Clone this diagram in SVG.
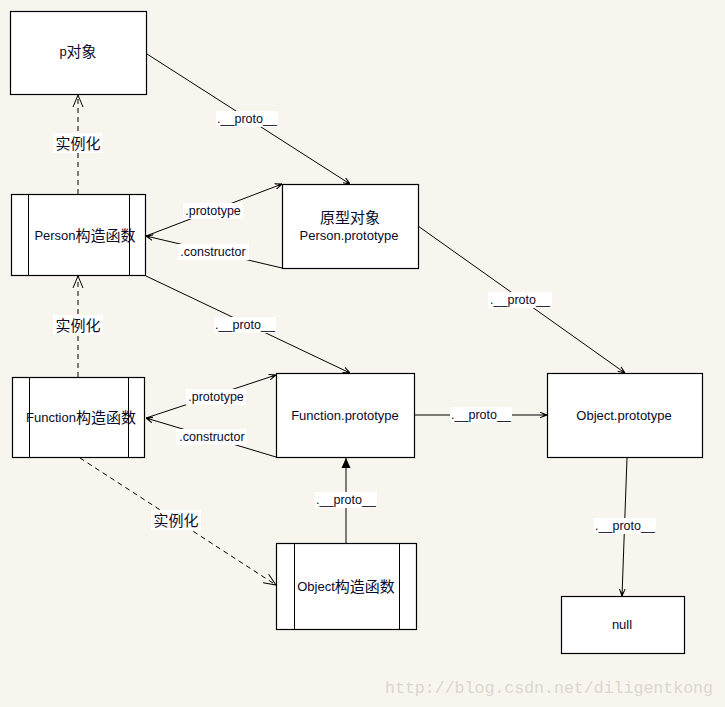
<svg xmlns="http://www.w3.org/2000/svg" width="725" height="707" viewBox="0 0 725 707">
<style>
.box{fill:#fff;stroke:#000;stroke-width:1.2}
.ln{fill:none;stroke:#000;stroke-width:1}
.dash{stroke-dasharray:5,4}
.t{font-family:"Liberation Sans","Noto Sans CJK SC",sans-serif;font-size:13px;fill:#0a0a2a;text-anchor:middle;dominant-baseline:central}
.c{font-size:15px}
.lbl{font-family:"Liberation Sans","Noto Sans CJK SC",sans-serif;font-size:12.5px;fill:#0a0a2a;text-anchor:middle;dominant-baseline:central}
.bg{fill:#fff}
</style>
<defs>
<marker id="a" viewBox="0 0 10 10" refX="10" refY="5" markerWidth="7" markerHeight="7" orient="auto" markerUnits="userSpaceOnUse">
<path d="M0,1 L10,5 L0,9 M4,5 L10,5" fill="none" stroke="#000" stroke-width="1.5"/>
</marker>
<marker id="v" viewBox="0 0 12 12" refX="12" refY="6" markerWidth="12" markerHeight="12" orient="auto" markerUnits="userSpaceOnUse">
<path d="M0,1 L12,6 L0,11" fill="none" stroke="#000" stroke-width="1"/>
</marker>
<marker id="f" viewBox="0 0 10 10" refX="10" refY="5" markerWidth="10" markerHeight="10" orient="auto" markerUnits="userSpaceOnUse">
<path d="M0,0.5 L10,5 L0,9.5 Z" fill="#000"/>
</marker>
</defs>
<rect width="725" height="707" fill="#f8f5ef"/>

<g id="connectors">
<line class="ln" x1="147" y1="54" x2="350" y2="184" marker-end="url(#a)"/>
<line class="ln dash" x1="78" y1="194" x2="78" y2="95" marker-end="url(#v)"/>
<line class="ln" x1="146" y1="236" x2="282" y2="184" marker-end="url(#a)"/>
<line class="ln" x1="282" y1="268" x2="146" y2="236" marker-end="url(#a)"/>
<line class="ln" x1="146" y1="276" x2="350" y2="373" marker-end="url(#a)"/>
<line class="ln dash" x1="78" y1="377" x2="78" y2="276" marker-end="url(#v)"/>
<line class="ln" x1="146" y1="418" x2="276" y2="375" marker-end="url(#a)"/>
<line class="ln" x1="276" y1="457" x2="146" y2="418" marker-end="url(#a)"/>
<line class="ln" x1="415" y1="415" x2="547" y2="415" marker-end="url(#a)"/>
<line class="ln" x1="418" y1="226" x2="625" y2="373" marker-end="url(#a)"/>
<line class="ln" x1="627" y1="458" x2="622" y2="596" marker-end="url(#a)"/>
<line class="ln" x1="346" y1="543" x2="346" y2="458" marker-end="url(#f)"/>
<line class="ln dash" x1="80" y1="458" x2="276" y2="585" marker-end="url(#v)"/>

<rect class="bg" x="216" y="111" width="62" height="16"/><text class="lbl" x="247" y="119">.__proto__</text>
<rect class="bg" x="53" y="133" width="50" height="20"/><text class="t c" x="78" y="143">实例化</text>
<rect class="bg" x="183" y="203" width="60" height="16"/><text class="lbl" x="213" y="211">.prototype</text>
<rect class="bg" x="178" y="244" width="71" height="16"/><text class="lbl" x="213" y="252">.constructor</text>
<rect class="bg" x="214" y="317" width="62" height="16"/><text class="lbl" x="245" y="325">.__proto__</text>
<rect class="bg" x="53" y="315" width="50" height="20"/><text class="t c" x="78" y="325">实例化</text>
<rect class="bg" x="488" y="292" width="64" height="16"/><text class="lbl" x="520" y="300">.__proto__</text>
<rect class="bg" x="186" y="389" width="60" height="16"/><text class="lbl" x="216" y="397">.prototype</text>
<rect class="bg" x="176" y="429" width="71" height="16"/><text class="lbl" x="212" y="437">.constructor</text>
<rect class="bg" x="450" y="407" width="62" height="16"/><text class="lbl" x="481" y="415">.__proto__</text>
<rect class="bg" x="315" y="492" width="62" height="16"/><text class="lbl" x="346" y="500">.__proto__</text>
<rect class="bg" x="594" y="518" width="62" height="16"/><text class="lbl" x="625" y="526">.__proto__</text>
<rect class="bg" x="151" y="510" width="50" height="20"/><text class="t c" x="176" y="520">实例化</text>
</g>

<g id="p-obj">
<rect class="box" x="10.5" y="11.5" width="136" height="83"/>
<text class="t" x="78" y="51">p<tspan class="c">对象</tspan></text>
</g>
<g id="person-ctor">
<rect class="box" x="11.5" y="194.5" width="134" height="81"/>
<line class="ln" x1="28.5" y1="194.5" x2="28.5" y2="275.5"/>
<line class="ln" x1="129.5" y1="194.5" x2="129.5" y2="275.5"/>
<text class="t" x="85" y="235">Person<tspan class="c">构造函数</tspan></text>
</g>
<g id="person-proto">
<rect class="box" x="282.5" y="184.5" width="136" height="84"/>
<text class="t c" x="350" y="217">原型对象</text>
<text class="t" x="349" y="235">Person.prototype</text>
</g>
<g id="function-ctor">
<rect class="box" x="12.5" y="377.5" width="132" height="80"/>
<line class="ln" x1="29.5" y1="377.5" x2="29.5" y2="457.5"/>
<line class="ln" x1="128.5" y1="377.5" x2="128.5" y2="457.5"/>
<text class="t" x="81" y="417">Function<tspan class="c">构造函数</tspan></text>
</g>
<g id="function-proto">
<rect class="box" x="276.5" y="373.5" width="138" height="84"/>
<text class="t" x="345" y="415">Function.prototype</text>
</g>
<g id="object-proto">
<rect class="box" x="547.5" y="373.5" width="155" height="84"/>
<text class="t" x="624" y="415">Object.prototype</text>
</g>
<g id="object-ctor">
<rect class="box" x="276.5" y="543.5" width="140" height="86"/>
<line class="ln" x1="294.5" y1="543.5" x2="294.5" y2="629.5"/>
<line class="ln" x1="399.5" y1="543.5" x2="399.5" y2="629.5"/>
<text class="t" x="346" y="586">Object<tspan class="c">构造函数</tspan></text>
</g>
<g id="null">
<rect class="box" x="561.5" y="596.5" width="123" height="57"/>
<text class="t" x="622" y="624">null</text>
</g>

<text x="385" y="693" textLength="328" lengthAdjust="spacingAndGlyphs" style="font-family:'Liberation Mono','DejaVu Sans Mono',monospace;font-size:17px;fill:#dbd7cf">http://blog.csdn.net/diligentkong</text>
</svg>
